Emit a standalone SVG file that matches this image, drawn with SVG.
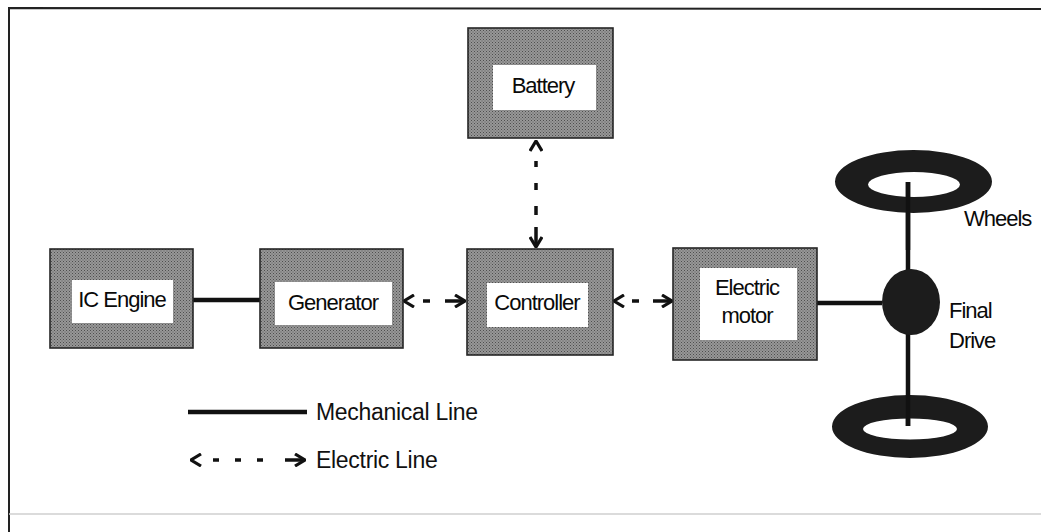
<svg xmlns="http://www.w3.org/2000/svg" width="1047" height="532" viewBox="0 0 1047 532">
<style>
.box{fill:url(#dither);stroke:#262626;stroke-width:1.6}
.inner{fill:#ffffff}
.lbl{font-family:"Liberation Sans",Arial,sans-serif;font-size:22px;fill:#0a0a0a;text-anchor:middle;dominant-baseline:central;letter-spacing:-1px}
.side{font-family:"Liberation Sans",Arial,sans-serif;font-size:22px;fill:#0a0a0a;dominant-baseline:central;letter-spacing:-1px}
.leg{font-family:"Liberation Sans",Arial,sans-serif;font-size:23px;fill:#111;dominant-baseline:central;letter-spacing:-0.3px}
.mech{stroke:#111;stroke-width:4.5;fill:none}
.elec{stroke:#111;stroke-width:3.5;fill:none;marker-start:url(#chev);marker-end:url(#chev)}
.dark{fill:#1c1c1c}
</style>
<defs>
<pattern id="dither" width="3" height="3" patternUnits="userSpaceOnUse">
<rect width="3" height="3" fill="#979797"/>
<rect x="0" y="0" width="1" height="1" fill="#4e4e4e"/>
<rect x="1.5" y="1.5" width="1" height="1" fill="#5a5a5a"/>
</pattern>
<marker id="chev" viewBox="0 0 12 14" refX="11" refY="7" markerWidth="12" markerHeight="14" markerUnits="userSpaceOnUse" orient="auto-start-reverse">
<path d="M1,1 L11,7 L1,13" fill="none" stroke="#111" stroke-width="3.2"/>
</marker>
</defs>
<rect width="1047" height="532" fill="#ffffff"/>
<g id="frame">
<path d="M9,532 L9,8 L1041,9" fill="none" stroke="#222" stroke-width="2"/>
<path d="M9,514 L1041,514" fill="none" stroke="#cfcfcf" stroke-width="1.5"/>
</g>
<g id="connectors">
<path class="mech" d="M193,300 L260,300"/>
<path class="elec" d="M404,301 L465,301" stroke-dasharray="0 19 7 15 30"/>
<path class="elec" d="M614,301 L672,301" stroke-dasharray="0 18 7 14 30"/>
<path class="elec" d="M536,141 L536,247" stroke-width="4" stroke-dasharray="0 20 6 16 7 16 9 12 30"/>
<path class="mech" d="M817,303 L882,303"/>
<path class="mech" d="M908,182 L908,426"/>
</g>
<g id="ic-engine">
<rect class="box" x="50" y="249" width="143" height="99"/>
<rect class="inner" x="72" y="280" width="101" height="43"/>
<text class="lbl" x="122" y="299">IC Engine</text>
</g>
<g id="generator">
<rect class="box" x="260" y="249" width="143" height="99"/>
<rect class="inner" x="275" y="282" width="117" height="43"/>
<text class="lbl" x="333" y="302">Generator</text>
</g>
<g id="controller">
<rect class="box" x="467" y="249" width="146" height="106"/>
<rect class="inner" x="487" y="283" width="101" height="44"/>
<text class="lbl" x="537" y="302">Controller</text>
</g>
<g id="battery">
<rect class="box" x="468" y="28" width="145" height="110"/>
<rect class="inner" x="493" y="65" width="103" height="45"/>
<text class="lbl" x="543" y="85">Battery</text>
</g>
<g id="electric-motor">
<rect class="box" x="673" y="248" width="144" height="112"/>
<rect class="inner" x="700" y="268" width="97" height="72"/>
<text class="lbl" x="747" y="287">Electric</text>
<text class="lbl" x="747" y="315">motor</text>
</g>
<g id="wheels">
<path class="dark" fill-rule="evenodd" d="M835,181.5 a78.5,31.5 0 1,0 157,0 a78.5,31.5 0 1,0 -157,0 Z M868,184.5 a46,12.5 0 1,0 92,0 a46,12.5 0 1,0 -92,0 Z"/>
<path class="dark" fill-rule="evenodd" d="M832,426.5 a78,31.5 0 1,0 156,0 a78,31.5 0 1,0 -156,0 Z M863,429 a47,10.5 0 1,0 94,0 a47,10.5 0 1,0 -94,0 Z"/>
<path class="mech" d="M908,182 L908,250"/>
<path class="mech" d="M908,395 L908,426"/>
<text class="side" x="964" y="218">Wheels</text>
</g>
<g id="final-drive">
<ellipse class="dark" cx="911" cy="302" rx="29" ry="33"/>
<text class="side" x="949" y="310">Final</text>
<text class="side" x="949" y="340">Drive</text>
</g>
<g id="legend">
<path class="mech" d="M188,412 L307,412" stroke-width="5"/>
<text class="leg" x="316" y="412">Mechanical Line</text>
<path class="elec" d="M191,460 L305,460" stroke-dasharray="0 22 6 16 6 16 6 22 20"/>
<text class="leg" x="316" y="460">Electric Line</text>
</g>
</svg>
